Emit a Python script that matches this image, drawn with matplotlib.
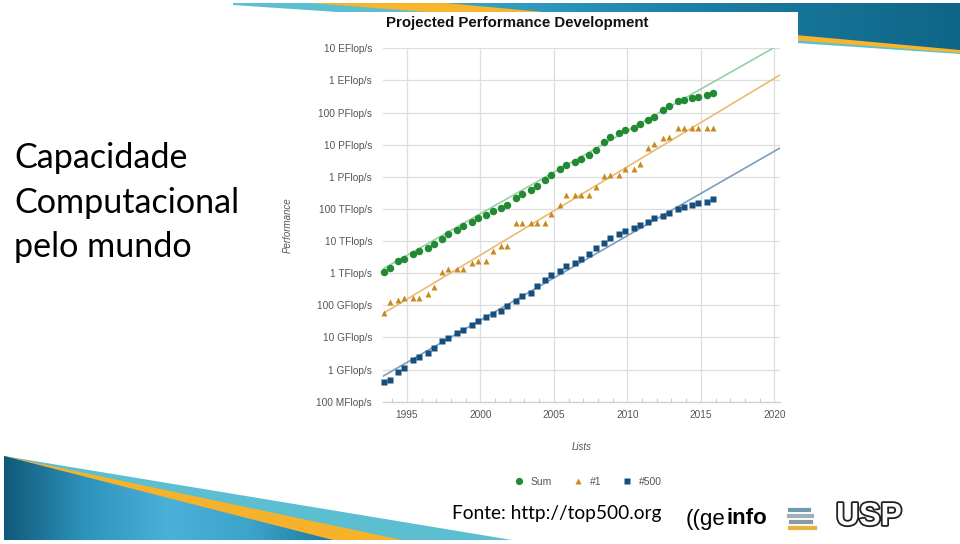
import numpy as np
import matplotlib
matplotlib.use("Agg")
import matplotlib.pyplot as plt
from matplotlib.patches import Polygon, Rectangle
from matplotlib.colors import LinearSegmentedColormap
from matplotlib.lines import Line2D
import matplotlib.patheffects as pe

# ---------------- data ----------------
list_dates = [f"{y}-{m}" for y in range(1993, 2016) for m in ("06", "11")]

sum_tflops = [1.128, 1.493, 2.317, 2.732, 3.92, 4.78, 5.95, 8.24, 12.0, 16.95,
              22.6, 28.4, 38.9, 50.9, 64.3, 88.1, 108.0, 134.0, 222.0, 293.0,
              375.0, 527.0, 813.0, 1127.0, 1690.0, 2300.0, 2790.0, 3530.0, 4920.0, 6970.0,
              11700.0, 16900.0, 22600.0, 27900.0, 32400.0, 43600.0, 58900.0, 74200.0,
              123000.0, 162000.0, 223000.0, 250000.0, 274000.0, 309000.0, 361000.0, 420000.0]

n1_gflops = [59.7, 124.5, 143.4, 170.4, 170.4, 170.4, 220.4, 368.2, 1068, 1338,
             1338, 1338, 2121, 2379, 2379, 4938, 7226, 7226, 35860, 35860,
             35860, 35860, 35860, 70720, 136800, 280600, 280600, 280600, 280600, 478200,
             1026000, 1105000, 1105000, 1759000, 1759000, 2566000, 8162000, 10510000,
             16324750, 17590000, 33862700, 33862700, 33862700, 33862700, 33862700, 33862700]

n500_gflops = [0.422, 0.472, 0.822, 1.114, 1.96, 2.49, 3.31, 4.62, 7.67, 9.51,
               13.4, 17.1, 24.7, 33.1, 43.8, 55.1, 67.8, 94.3, 134.3, 195.8,
               245.1, 403.4, 624.0, 850.6, 1166, 1646, 2026, 2737, 4005, 5929,
               9000, 12640, 17090, 20050, 24670, 31120, 39950, 50940, 60820, 76500,
               96620, 117800, 133700, 153400, 164700, 206300]

# projection (trend) lines: value at start / end year
trend_years = [1993.4, 2020.4]
sum_trend = [1.38e12, 1.35e19]
n1_trend = [5.6e10, 1.5e18]
n500_trend = [6.3e8, 8.0e15]

ytick_vals = [1e8, 1e9, 1e10, 1e11, 1e12, 1e13, 1e14, 1e15, 1e16, 1e17, 1e18, 1e19]
ytick_labels = ["100 MFlop/s", "1 GFlop/s", "10 GFlop/s", "100 GFlop/s", "1 TFlop/s",
                "10 TFlop/s", "100 TFlop/s", "1 PFlop/s", "10 PFlop/s", "100 PFlop/s",
                "1 EFlop/s", "10 EFlop/s"]
xtick_years = [1995, 2000, 2005, 2010, 2015, 2020]

series_names = ["Sum", "#1", "#500"]

# ---------------- figure ----------------
W, H = 960, 544
fig = plt.figure(figsize=(W / 100, H / 100), dpi=100)
fig.patch.set_facecolor("white")

bg = fig.add_axes([0, 0, 1, 1], zorder=0)
bg.set_axis_off()
bg.set_xlim(0, W)
bg.set_ylim(H, 0)


def grad_poly(ax, verts, colors, z):
    poly = Polygon(verts, closed=True, facecolor="none", edgecolor="none", zorder=z)
    ax.add_patch(poly)
    xs = [v[0] for v in verts]
    ys = [v[1] for v in verts]
    cmap = LinearSegmentedColormap.from_list("g", colors)
    im = ax.imshow(np.linspace(0, 1, 256)[None, :], cmap=cmap,
                   extent=(min(xs), max(xs), max(ys), min(ys)),
                   aspect="auto", zorder=z, interpolation="bilinear")
    im.set_clip_path(poly)


# top swoosh
bg.add_patch(Polygon([(233, 3), (960, 3), (960, 54), (233, 5)], closed=True,
                     facecolor="#5cbfd1", edgecolor="none", zorder=1))
bg.add_patch(Polygon([(310, 3), (960, 3), (960, 53)], closed=True,
                     facecolor="#f6b52d", edgecolor="none", zorder=2))
grad_poly(bg, [(445, 3), (960, 3), (960, 50)], ["#39a6cb", "#1b7ea3", "#0f6587"], 3)

# bottom-left swoosh
bg.add_patch(Polygon([(4, 456), (512, 540), (4, 540)], closed=True,
                     facecolor="#5cbfd1", edgecolor="none", zorder=1))
bg.add_patch(Polygon([(4, 456), (402, 540), (4, 540)], closed=True,
                     facecolor="#f6b22a", edgecolor="none", zorder=2))
grad_poly(bg, [(4, 456), (333, 540), (4, 540)],
          ["#0f5a7a", "#2f94bd", "#4ab1d8", "#3ea3cb", "#1b7aa0"], 3)

# white chart image background
bg.add_patch(Rectangle((278, 12), 520, 488, facecolor="white", edgecolor="none", zorder=5))

# slide texts
title_font = ["Lato", "DejaVu Sans"]
for txt, yb in [("Capacidade", 168), ("Computacional", 213), ("pelo mundo", 257)]:
    bg.text(14, yb, txt, fontsize=24.6, family=title_font, color="black",
            ha="left", va="baseline", zorder=6)

bg.text(452, 513, "Fonte: http://top500.org", fontsize=13.8, family=title_font,
        color="black", ha="left", va="center", zorder=6)

# geinfo logo
fig.canvas.draw()
renderer = fig.canvas.get_renderer()
t1 = bg.text(686, 519, "((ge", fontsize=16, family=["Liberation Sans"], color="black",
             ha="left", va="center", zorder=6)
bb = t1.get_window_extent(renderer=renderer)
x_end = bb.x1
bg.text(x_end + 0.5, 519, "info", fontsize=16, family=["Liberation Sans"], fontweight="bold",
        color="black", ha="left", va="center", zorder=6)
# books icon
for (yy, c, x0, x1) in [(507, "#6f9bb0", 787, 811), (513, "#9fb0b8", 786, 814),
                        (519, "#8a9aa2", 788, 813), (525, "#e6b33e", 787, 817)]:
    bg.add_patch(Rectangle((x0, yy), x1 - x0, 5.0, facecolor=c, edgecolor="white",
                           linewidth=0.6, zorder=6))
# USP logo
bg.text(869, 517, "USP", fontsize=23, family=["Liberation Sans"], fontweight="bold",
        color="white", ha="center", va="center", zorder=6,
        path_effects=[pe.withStroke(linewidth=2.6, foreground="#222222")])

# ---------------- chart ----------------
years = [int(d[:4]) + (int(d[5:]) - 1) / 12 for d in list_dates]
sum_vals = np.array(sum_tflops) * 1e12
n1_vals = np.array(n1_gflops) * 1e9
n500_vals = np.array(n500_gflops) * 1e9

ax = fig.add_axes([383.3 / W, (H - 401.7) / H, 397 / W, (401.7 - 48.3) / H], zorder=2)
ax.set_facecolor("none")
ax.set_yscale("log")
ax.set_xlim(1993.4, 2020.4)
ax.set_ylim(1e8, 1e19)

green, orange, blue = "#238a34", "#c78a1f", "#174e7d"
ax.plot(trend_years, sum_trend, color="#98cfa2", lw=1.2, zorder=2)
ax.plot(trend_years, n1_trend, color="#ebbb72", lw=1.2, zorder=2)
ax.plot(trend_years, n500_trend, color="#7c9dbd", lw=1.2, zorder=2)

ax.plot(years, sum_vals, "o", color=green, ms=5.4, mec="none", zorder=4, clip_on=False)
ax.plot(years, n1_vals, "^", color=orange, ms=4.2, mec="none", zorder=4, clip_on=False)
ax.plot(years, n500_vals, "s", color=blue, ms=3.8, mec="none", zorder=4, clip_on=False)

ax.set_yticks(ytick_vals)
ax.set_yticklabels(ytick_labels)
ax.yaxis.set_minor_locator(matplotlib.ticker.NullLocator())
ax.set_xticks(xtick_years)
ax.set_xticklabels([str(y) for y in xtick_years])
ax.set_xticks(list(range(1994, 2021)), minor=True)

ax.grid(True, which="major", color="#dedede", lw=0.9)
ax.set_axisbelow(True)
for s in ["top", "right", "left"]:
    ax.spines[s].set_visible(False)
ax.spines["bottom"].set_color("#cfcfcf")
ax.spines["bottom"].set_linewidth(0.9)
ax.tick_params(axis="y", length=0, pad=8, labelsize=7.3, labelcolor="#555555")
ax.tick_params(axis="x", which="major", length=0, pad=6, labelsize=7.3, labelcolor="#555555")
ax.tick_params(axis="x", which="minor", direction="in", length=3, color="#cfcfcf", width=0.8)
for lab in ax.get_xticklabels() + ax.get_yticklabels():
    lab.set_family("Liberation Sans")

fig.text(517 / W, 1 - 23 / H, "Projected Performance Development", fontsize=10.8,
         fontweight="bold", family="Liberation Sans", color="#111111", ha="center", va="center")
fig.text(288 / W, 1 - 225 / H, "Performance", fontsize=7, style="italic", rotation=90,
         family="Liberation Sans", color="#555555", ha="center", va="center")
fig.text(582 / W, 1 - 447 / H, "Lists", fontsize=7, style="italic",
         family="Liberation Sans", color="#555555", ha="center", va="center")

handles = [Line2D([], [], ls="none", marker="o", color=green, ms=5.2, mec="none"),
           Line2D([], [], ls="none", marker="^", color=orange, ms=4.2, mec="none"),
           Line2D([], [], ls="none", marker="s", color=blue, ms=3.8, mec="none")]
leg = fig.legend(handles, series_names, ncol=3, loc="center",
                 bbox_to_anchor=(588 / W, 1 - 482 / H), frameon=False,
                 prop={"family": "Liberation Sans", "size": 7.5},
                 handlelength=1.0, handletextpad=0.6, columnspacing=2.0)
for t in leg.get_texts():
    t.set_color("#555555")

fig.savefig("out.png", dpi=100, facecolor="white")
